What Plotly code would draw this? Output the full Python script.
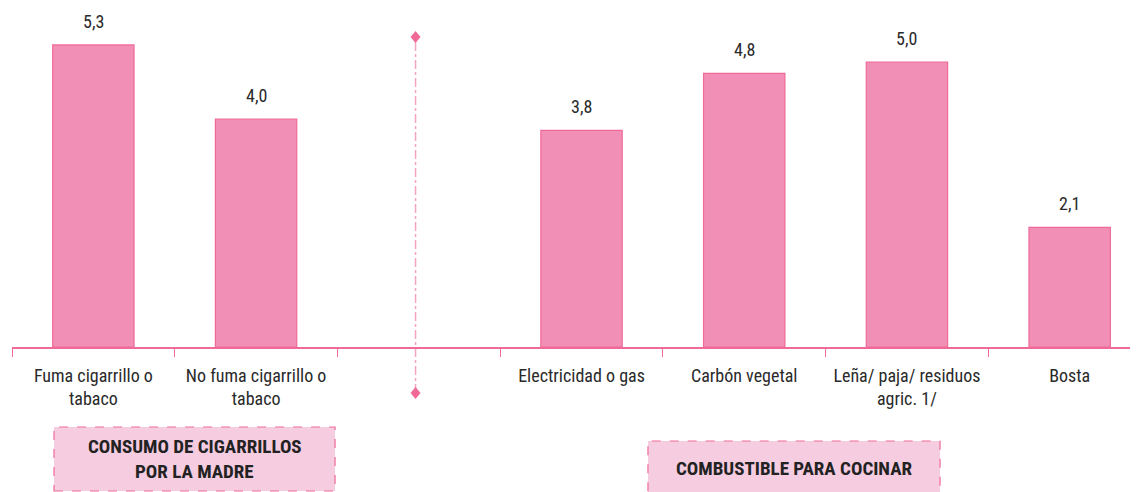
import plotly.graph_objects as go

categories = ["Fuma cigarrillo o<br>tabaco", "No fuma cigarrillo o<br>tabaco", " ",
              "Electricidad o gas", "Carbón vegetal", "Leña/ paja/ residuos<br>agric. 1/", "Bosta"]
values = [5.3, 4.0, None, 3.8, 4.8, 5.0, 2.1]
group1_lines = ["CONSUMO DE CIGARRILLOS", "POR LA MADRE"]
group2_lines = ["COMBUSTIBLE PARA COCINAR"]

FONT = "Liberation Sans Narrow, Roboto Condensed, Arial Narrow, Liberation Sans, sans-serif"
BAR = "#F28FB6"
EDGE = "#F06A98"
TXT = "#2a2a2a"

fig = go.Figure()
fig.add_trace(go.Bar(
    x=categories, y=values, width=0.5,
    marker=dict(color=BAR, line=dict(color=EDGE, width=1.2)),
    hoverinfo="skip",
))

annotations = []
for c, v in zip(categories, values):
    if v is None:
        continue
    annotations.append(dict(x=c, y=v, xref="x", yref="y", text=f"{v:.1f}".replace(".", ","),
                            showarrow=False, yanchor="bottom", yshift=11,
                            font=dict(family=FONT, size=18, color=TXT)))

DIV_X = 1.98
diamond = "M0,6 L5,0 L0,-6 L-5,0 Z"
shapes = [
    dict(type="line", xref="x", yref="paper", x0=DIV_X, x1=DIV_X, y0=-0.1357, y1=0.9145,
         line=dict(color="#F5A3C2", width=1.5, dash="dashdot"), layer="below"),
    dict(type="path", xref="x", yref="paper", xsizemode="pixel", ysizemode="pixel",
         xanchor=DIV_X, yanchor=0.9145, path=diamond, fillcolor=EDGE, line=dict(width=0)),
    dict(type="path", xref="x", yref="paper", xsizemode="pixel", ysizemode="pixel",
         xanchor=DIV_X, yanchor=-0.1357, path=diamond, fillcolor=EDGE, line=dict(width=0)),
    dict(type="rect", xref="paper", yref="paper", x0=0.0373, x1=0.2869, y0=-0.4248, y1=-0.236,
         fillcolor="#F5CCE0", line=dict(color="#F06A98", width=1.2, dash="dash")),
    dict(type="rect", xref="paper", yref="paper", x0=0.5648, x1=0.8242, y0=-0.45, y1=-0.2773,
         fillcolor="#F5CCE0", line=dict(color="#F06A98", width=1.2, dash="dash")),
]
for txt, y in zip(group1_lines, [-0.2949, -0.3658]):
    annotations.append(dict(x=0.1625, y=y, xref="paper", yref="paper", text=f"<b>{txt}</b>",
                            xanchor="center", yanchor="middle", showarrow=False,
                            font=dict(family=FONT, size=19, color="#222")))
for txt, y in zip(group2_lines, [-0.357]):
    annotations.append(dict(x=0.6945, y=y, xref="paper", yref="paper", text=f"<b>{txt}</b>",
                            xanchor="center", yanchor="middle", showarrow=False,
                            font=dict(family=FONT, size=19, color="#222")))

fig.update_layout(
    width=1130, height=484,
    margin=dict(l=4, r=0, t=0, b=145),
    paper_bgcolor="white", plot_bgcolor="white",
    showlegend=False,
    xaxis=dict(type="category", categoryorder="array", categoryarray=categories,
               range=[-0.5, 6.42], tickson="boundaries", ticks="outside", ticklen=8,
               tickcolor="#F06A98", tickwidth=1, showline=True, linecolor="#F06A98", linewidth=2,
               showgrid=False, zeroline=False, ticklabelstandoff=11,
               tickfont=dict(family=FONT, size=18, color=TXT)),
    yaxis=dict(range=[0, 5.947], visible=False, showgrid=False, zeroline=False),
    shapes=shapes, annotations=annotations,
)

fig.write_html("out.html")
